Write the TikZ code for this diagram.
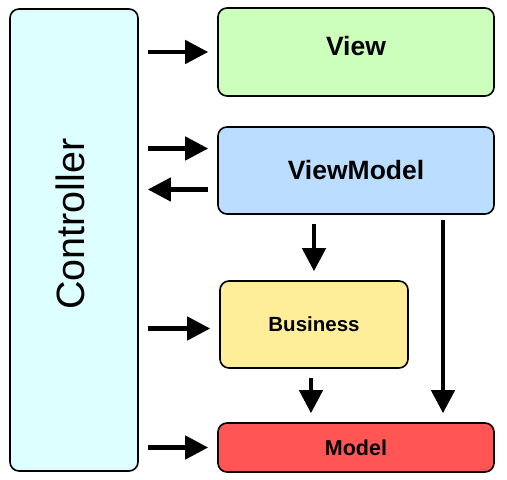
\documentclass[tikz,border=0pt]{standalone}
\usepackage{fontspec}
\setmainfont{Liberation Sans}
\usetikzlibrary{arrows.meta}

\definecolor{ctrlfill}{HTML}{DDFFFF}
\definecolor{viewfill}{HTML}{CCFFBB}
\definecolor{vmfill}{HTML}{BBDDFF}
\definecolor{busfill}{HTML}{FFEE99}
\definecolor{modelfill}{HTML}{FF5555}

\begin{document}
\begin{tikzpicture}[x=1pt, y=1pt,
  box/.style={draw, line width=1.6pt, rounded corners=9pt, inner sep=0pt},
  arr/.style={line width=4.5pt, -{Triangle[length=23pt, width=23pt]}, shorten <=9pt, shorten >=9pt}]

  \useasboundingbox (0,0) rectangle (507,480);

  % boxes
  \node[box, fill=ctrlfill, minimum width=128pt, minimum height=462pt] (ctrl) at (74, 240) {};
  \node[rotate=90, font=\fontsize{39.5}{46}\selectfont] (ctrltext) at (70, 256) {Controller};
  \node[box, fill=viewfill, minimum width=276pt, minimum height=88pt, text depth=12pt,
        font=\fontsize{26.5}{32}\selectfont\bfseries] (view) at (356, 428) {View};
  \node[box, fill=vmfill, minimum width=276pt, minimum height=87pt,
        font=\fontsize{26.5}{32}\selectfont\bfseries] (vm) at (356, 309.5) {ViewModel};
  \node[box, fill=busfill, minimum width=188pt, minimum height=87pt,
        font=\fontsize{20.5}{25}\selectfont\bfseries] (bus) at (314, 155.5) {Business};
  \node[box, fill=modelfill, minimum width=276pt, minimum height=49pt,
        font=\fontsize{21.5}{26}\selectfont\bfseries] (model) at (356, 32.5) {Model};

  % controller to the others
  \draw[arr] (ctrl.east |- view.west) -- (view.west);
  \draw[arr] ([yshift=22pt]ctrl.east |- vm.west) -- ([yshift=22pt]vm.west);
  \draw[arr] ([yshift=-19pt]vm.west) -- ([yshift=-19pt]ctrl.east |- vm.west);
  \draw[arr] ([yshift=-4pt]ctrl.east |- bus.west) -- ([yshift=-4pt]bus.west);
  \draw[arr] (ctrl.east |- model.west) -- (model.west);

  % downwards
  \draw[arr] (vm.south -| bus.north) -- (bus.north);
  \draw[arr] ([xshift=-3pt]bus.south) -- ([xshift=-3pt]bus.south |- model.north);
  \draw[arr, shorten <=5pt] ([xshift=87pt]vm.south) -- ([xshift=87pt]vm.south |- model.north);

\end{tikzpicture}
\end{document}
